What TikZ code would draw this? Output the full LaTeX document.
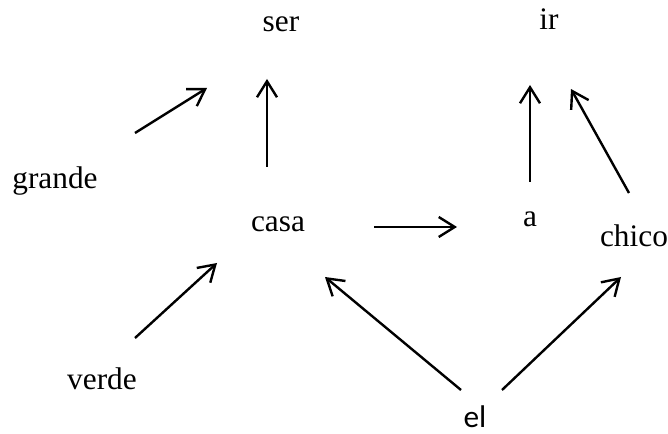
\documentclass[tikz,border=0pt]{standalone}
\usepackage{fontspec}
\setmainfont{Liberation Serif}
\newfontfamily\elfont{Carlito}
\usetikzlibrary{arrows.meta}
\tikzset{
  word/.style={anchor=base, inner sep=0pt, font=\fontsize{23.5}{27}\selectfont},
  link/.style={line width=1.8pt, -{Straight Barb[length=12pt,width=15pt,line width=1.8pt]}}
}
\begin{document}
\begin{tikzpicture}[x=0.75pt,y=-0.75pt]
\useasboundingbox (0,0) rectangle (668,434);
\node[word] (ser) at (281,32) {ser};
\node[word] (ir) at (549,30) {ir};
\node[word] (grande) at (55,189) {grande};
\node[word] (casa) at (278,232) {casa};
\node[word] (a) at (530,227) {a};
\node[word] (chico) at (634,247) {chico};
\node[word] (verde) at (102,390) {verde};
\node[word, font=\fontsize{23.5}{27}\selectfont\elfont] (el) at (475,428) {el};
% connector end points
\coordinate (g1) at (135,133); \coordinate (g2) at (207,88);
\coordinate (c1) at (267,167); \coordinate (c2) at (267,79);
\coordinate (a1) at (530,182); \coordinate (a2) at (530,85);
\coordinate (h1) at (629,193); \coordinate (h2) at (571,89);
\coordinate (ca1) at (374,227); \coordinate (ca2) at (457,227);
\coordinate (v1) at (135,338); \coordinate (v2) at (217,263);
\coordinate (e1) at (461,390); \coordinate (e2) at (325,277);
\coordinate (e3) at (502,390); \coordinate (e4) at (621,277);
\draw[link] (g1) -- (g2);
\draw[link] (c1) -- (c2);
\draw[link] (a1) -- (a2);
\draw[link] (h1) -- (h2);
\draw[link] (ca1) -- (ca2);
\draw[link] (v1) -- (v2);
\draw[link] (e1) -- (e2);
\draw[link] (e3) -- (e4);
\end{tikzpicture}
\end{document}
